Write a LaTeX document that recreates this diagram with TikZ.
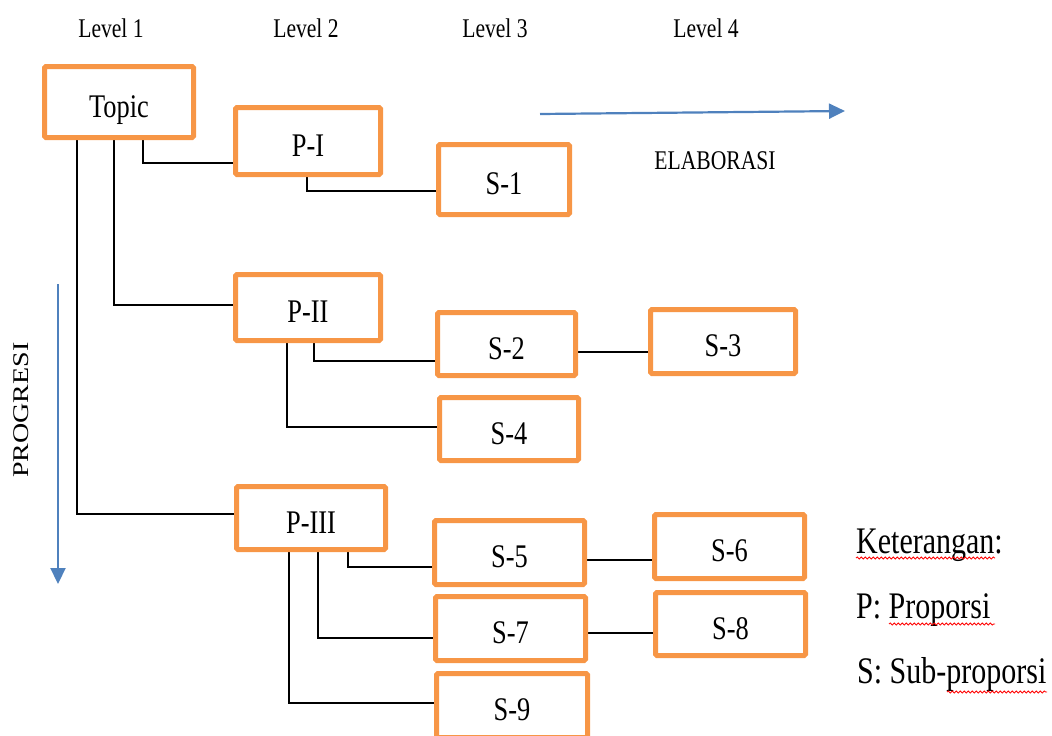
\documentclass[tikz,border=0pt]{standalone}
\usepackage{fontspec}
\usepackage{graphicx}
\setmainfont{Liberation Serif}[FakeStretch=0.8]
\newfontfamily\plainserif{Liberation Serif}
\usetikzlibrary{arrows.meta,decorations.pathmorphing}
\definecolor{boxorange}{HTML}{F79646}
\definecolor{flowblue}{HTML}{4F81BD}
\pgfdeclarelayer{background}
\pgfsetlayers{background,main}
\tikzset{
  box/.style={draw=boxorange, line width=5pt, fill=white, rounded corners=1.5pt,
    inner sep=0pt, text height=30pt, text depth=0pt,
    font=\fontsize{33}{36}\selectfont},
  conn/.style={draw=black, line width=2pt},
  flow/.style={draw=flowblue, line width=2.2pt, -{Triangle[length=16pt,width=15pt]}},
  levellabel/.style={anchor=base, inner sep=0pt, font=\fontsize{27}{30}\selectfont},
  legend/.style={anchor=base west, inner sep=0pt, font=\fontsize{37.5}{40}\selectfont},
  squiggle/.style={draw=red, line width=0.8pt, decorate,
    decoration={snake, segment length=4pt, amplitude=1.1pt}},
}
\begin{document}
\begin{tikzpicture}[x=1pt, y=-1pt]
\useasboundingbox (0,0) rectangle (1052,736);
\clip (0,0) rectangle (1052,736);

% column headings
\node[levellabel] (lv1) at (111,37) {Level 1};
\node[levellabel] (lv2) at (306,37) {Level 2};
\node[levellabel] (lv3) at (495,37) {Level 3};
\node[levellabel] (lv4) at (706,37) {Level 4};

% topic and propositions
\node[box, minimum width=149pt, minimum height=71pt] (topic) at (119,102) {Topic};
\node[box, minimum width=145pt, minimum height=67pt] (p1) at (308,141) {P-I};
\node[box, minimum width=145pt, minimum height=66pt] (p2) at (308,307.5) {P-II};
\node[box, minimum width=149pt, minimum height=63pt] (p3) at (311,518) {P-III};

% sub-propositions
\node[box, minimum width=131pt, minimum height=70pt] (s1) at (504,179.5) {S-1};
\node[box, minimum width=138pt, minimum height=63pt] (s2) at (506.5,344) {S-2};
\node[box, minimum width=145pt, minimum height=64pt] (s3) at (723,341.5) {S-3};
\node[box, minimum width=139pt, minimum height=63pt] (s4) at (509,429) {S-4};
\node[box, minimum width=150pt, minimum height=64pt] (s5) at (509.5,552.5) {S-5};
\node[box, minimum width=150pt, minimum height=64pt] (s6) at (729.5,546.5) {S-6};
\node[box, minimum width=150pt, minimum height=64pt] (s7) at (510.5,628.5) {S-7};
\node[box, minimum width=150pt, minimum height=63pt] (s8) at (730.5,624) {S-8};
\node[box, minimum width=151pt, minimum height=64pt] (s9) at (512,705.5) {S-9};

% tree connectors, kept under the boxes
\begin{pgfonlayer}{background}
  \draw[conn] (topic.south -| 143,0) |- (p1.west |- 0,163);
  \draw[conn] (topic.south -| 114,0) |- (p2.west |- 0,305);
  \draw[conn] (topic.south -| 77,0)  |- (p3.west |- 0,514);
  \draw[conn] (p1.south -| 307,0) |- (s1.west |- 0,191);
  \draw[conn] (p2.south -| 314,0) |- (s2.west |- 0,361);
  \draw[conn] (p2.south -| 287,0) |- (s4.west |- 0,427);
  \draw[conn] (s2.east |- 0,352) -- (s3.west |- 0,352);
  \draw[conn] (p3.south -| 348,0) |- (s5.west |- 0,567);
  \draw[conn] (p3.south -| 318,0) |- (s7.west |- 0,638);
  \draw[conn] (p3.south -| 289,0) |- (s9.west |- 0,703);
  \draw[conn] (s5.east |- 0,560) -- (s6.west |- 0,560);
  \draw[conn] (s7.east |- 0,633) -- (s8.west |- 0,633);
\end{pgfonlayer}

% direction arrows
\coordinate (elabStart) at (540,114);
\coordinate (elabEnd) at (845,111);
\draw[flow] (elabStart) -- (elabEnd);
\node[levellabel] (elab) at (715,169) {ELABORASI};

\coordinate (progStart) at (58,284);
\coordinate (progEnd) at (58,584);
\draw[flow] (progStart) -- (progEnd);
\node[anchor=base, inner sep=0pt, rotate=90, font=\plainserif\fontsize{28}{30}\selectfont]
  (prog) at (28,410) {\scalebox{1}[0.8]{PROGRESI}};

% legend
\node[legend] (ket) at (856,553) {Keterangan:};
\node[legend] (kp) at (856,618) {P: Proporsi};
\node[legend] (ks) at (857,683) {S: Sub-proporsi};
\draw[squiggle] (856,558) -- (995,558);
\draw[squiggle] (889,624) -- (995,624);
\draw[squiggle] (947,692) -- (1047,692);
\end{tikzpicture}
\end{document}
